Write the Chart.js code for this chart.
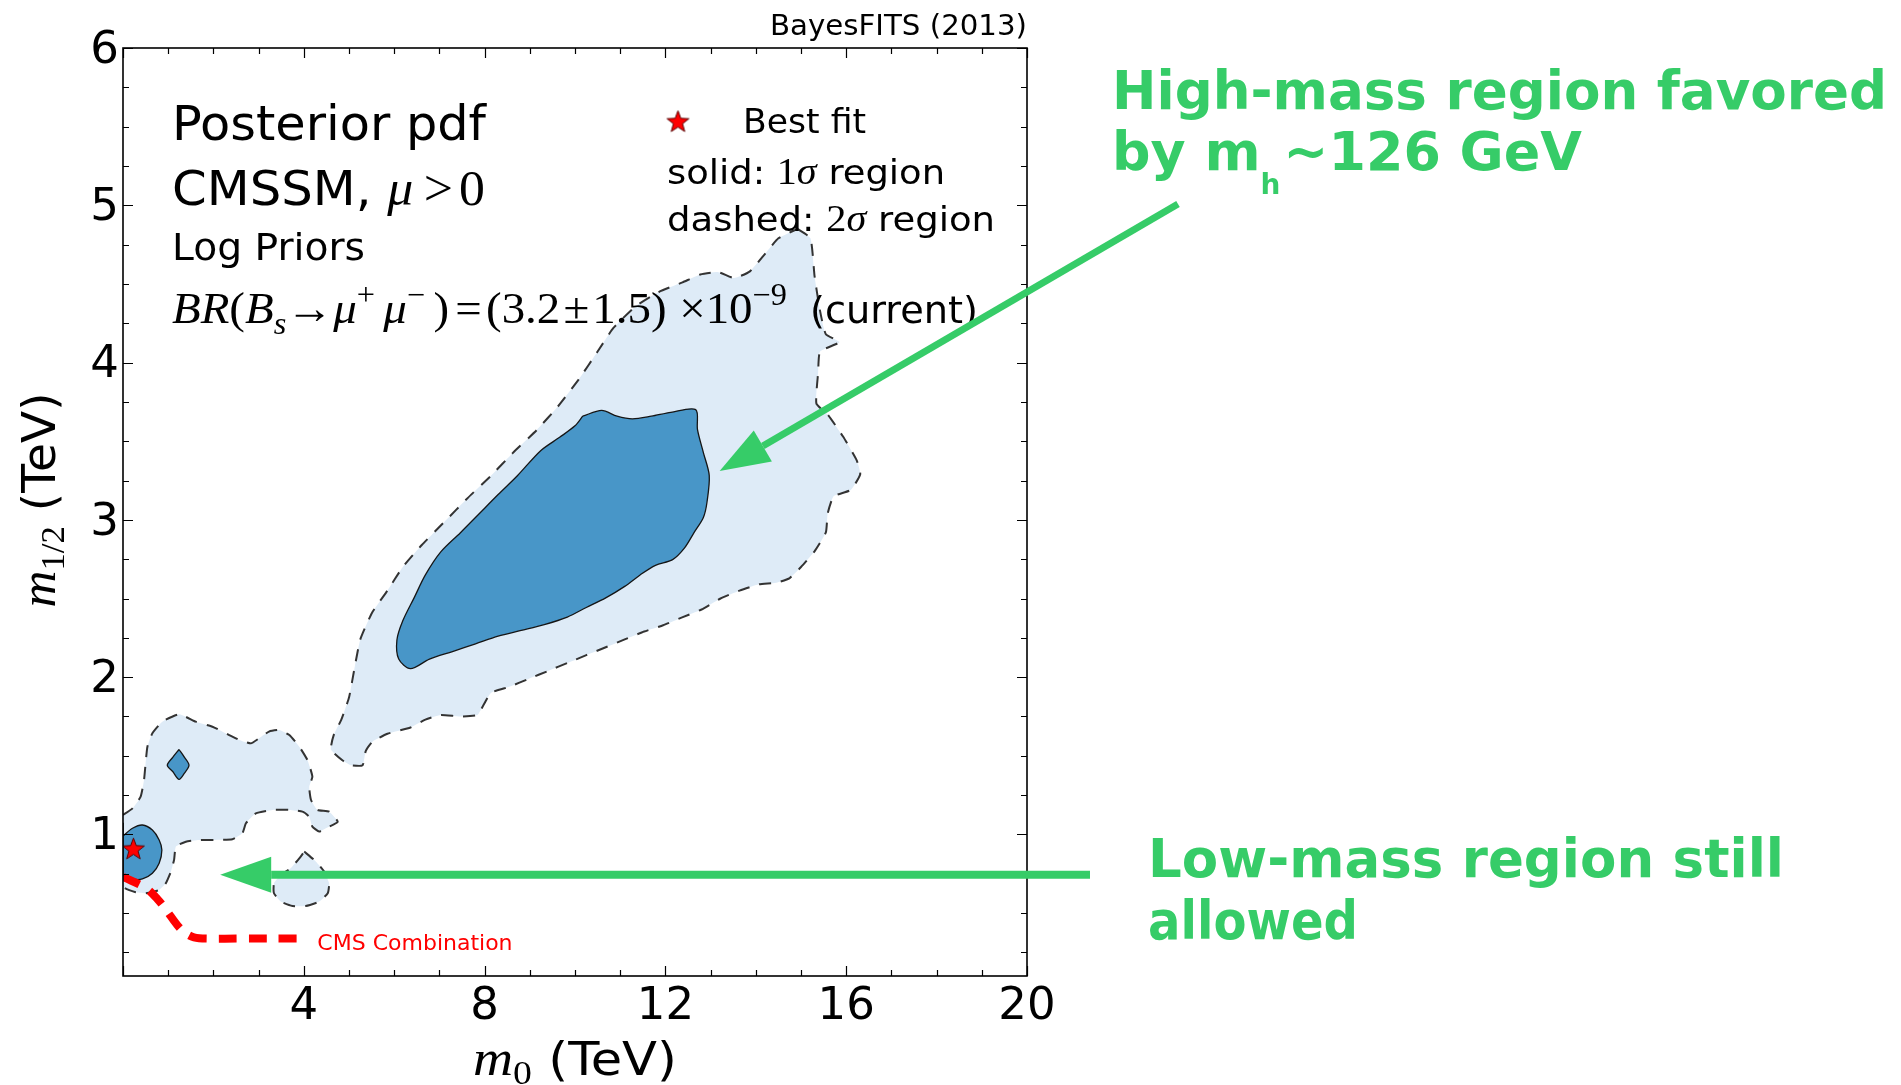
<!DOCTYPE html>
<html>
<head>
<meta charset="utf-8">
<script src="https://cdn.jsdelivr.net/npm/chart.js@4.4.0/dist/chart.umd.min.js"></script>
<style>
  html, body { margin: 0; padding: 0; background: #ffffff; }
  #wrap { width: 1901px; height: 1085px; }
</style>
</head>
<body>
<div id="wrap"><canvas id="c" width="1901" height="1085"></canvas></div>
<script>
// ---------------- DATA ----------------
const xRange = [0, 20];
const yRange = [0.1, 6];
const xTickValues = [0, 4, 8, 12, 16, 20];
const xTickLabels = ['', '4', '8', '12', '16', '20'];
const yTickValues = [1, 2, 3, 4, 5, 6];
const yTickLabels = ['1', '2', '3', '4', '5', '6'];
const xMinorStep = 1;
const yMinorStep = 0.25;

// 2-sigma contours (dashed), vertices as [m0, m1/2] in TeV
const sigma2High = [
  [14.92,4.85],[15.21,4.79],[15.30,4.55],[15.42,4.33],[15.55,4.18],[15.85,4.13],[15.42,4.07],
  [15.38,3.94],[15.34,3.74],[15.59,3.67],[15.93,3.53],[16.23,3.38],[16.31,3.29],[16.10,3.19],
  [15.72,3.15],[15.59,3.04],[15.55,2.92],[15.30,2.80],[15.00,2.70],[14.75,2.63],[14.45,2.60],
  [14.07,2.59],[13.64,2.55],[13.22,2.50],[12.80,2.43],[12.37,2.38],[11.95,2.33],[11.53,2.29],
  [11.10,2.24],[10.68,2.19],[10.25,2.14],[9.83,2.09],[9.41,2.04],[8.98,1.99],[8.56,1.94],
  [8.14,1.90],[7.97,1.82],[7.84,1.76],[7.46,1.75],[7.03,1.76],[6.69,1.73],[6.36,1.68],
  [5.85,1.64],[5.52,1.59],[5.37,1.53],[5.30,1.44],[5.04,1.44],[4.86,1.47],[4.60,1.54],
  [4.66,1.63],[4.83,1.73],[5.00,1.87],[5.13,2.07],[5.25,2.24],[5.51,2.41],[5.85,2.55],
  [6.19,2.70],[6.61,2.84],[7.12,2.99],[7.63,3.14],[8.14,3.28],[8.64,3.43],[9.15,3.57],
  [9.62,3.72],[10.10,3.90],[10.50,4.07],[10.85,4.22],[11.35,4.36],[11.86,4.45],[12.38,4.51],
  [12.77,4.56],[13.17,4.575],[13.52,4.537],[13.87,4.58],[14.20,4.69],[14.50,4.79],[14.92,4.85]
];
const sigma2Low = [
  [0,1.124],[0.21,1.166],[0.39,1.24],[0.465,1.346],[0.50,1.452],[0.54,1.558],[0.65,1.643],
  [0.87,1.717],[1.24,1.764],[1.61,1.717],[1.98,1.685],[2.35,1.632],[2.57,1.601],[2.83,1.579],
  [3.01,1.611],[3.23,1.654],[3.46,1.664],[3.68,1.632],[3.90,1.558],[4.08,1.473],[4.19,1.367],
  [4.12,1.304],[4.16,1.219],[4.30,1.156],[4.56,1.145],[4.75,1.081],[4.49,1.039],[4.34,1.018],
  [4.19,1.05],[4.12,1.113],[3.97,1.145],[3.68,1.156],[3.31,1.156],[2.94,1.134],[2.72,1.071],
  [2.64,1.007],[2.42,0.969],[2.05,0.965],[1.68,0.965],[1.39,0.954],[1.17,0.923],[1.13,0.838],
  [1.06,0.764],[0.945,0.689],[0.80,0.647],[0.50,0.626],[0.28,0.632],[0,0.668],[0,1.124]
];
const sigma2Island = [
  [4.01,0.891],[4.27,0.827],[4.45,0.764],[4.56,0.689],[4.53,0.626],[4.34,0.573],[4.04,0.545],
  [3.75,0.545],[3.49,0.573],[3.34,0.626],[3.34,0.689],[3.49,0.742],[3.71,0.785],[3.90,0.848],
  [4.01,0.891]
];
// 1-sigma contours (solid)
const sigma1High = [
  [10.17,3.659],[10.59,3.696],[10.93,3.659],[11.27,3.642],[11.69,3.659],[12.12,3.684],
  [12.67,3.701],[12.71,3.574],[12.84,3.428],[12.97,3.282],[12.92,3.112],[12.84,3.015],
  [12.63,2.917],[12.42,2.820],[12.16,2.747],[11.78,2.711],[11.44,2.650],[11.10,2.577],
  [10.68,2.504],[10.25,2.443],[9.83,2.382],[9.32,2.334],[8.81,2.297],[8.30,2.261],
  [7.80,2.212],[7.29,2.163],[6.78,2.115],[6.36,2.054],[6.10,2.115],[6.06,2.236],
  [6.19,2.358],[6.44,2.504],[6.69,2.650],[7.03,2.796],[7.46,2.917],[7.88,3.039],
  [8.30,3.161],[8.73,3.282],[9.24,3.440],[9.66,3.525],[10.00,3.598],[10.17,3.659]
];
const sigma1Low = [
  [0,0.99],[0.21,1.039],[0.43,1.06],[0.65,1.028],[0.80,0.965],[0.86,0.901],[0.80,0.817],
  [0.65,0.753],[0.43,0.717],[0.21,0.717],[0,0.742],[0,0.99]
];
const sigma1Diamond = [
  [1.24,1.54],[1.36,1.49],[1.46,1.44],[1.36,1.39],[1.24,1.35],[1.10,1.40],[0.98,1.44],
  [1.10,1.49],[1.24,1.54]
];
// CMS combination exclusion line
const cmsCombination = [
  [0,0.73],[0.50,0.66],[0.76,0.59],[0.98,0.51],[1.17,0.435],[1.35,0.38],[1.57,0.346],
  [1.91,0.338],[2.60,0.338],[3.90,0.338]
];
const bestFit = [[0.23, 0.912]];
// annotation anchors (data coords of arrow tips / label)
const highMassArrowTip = [13.2, 3.31];
const lowMassArrowTip = [2.15, 0.743];
const cmsLabelAt = [4.3, 0.338];

// ---------------- STYLE ----------------
const LIGHT = '#deebf7';
const DARK = '#4896c8';
const GREEN = '#36cc68';
const SANS = '"DejaVu Sans"';
const SERIF = '"Liberation Serif"';

function makeStar(size, fill, stroke) {
  const c = document.createElement('canvas');
  c.width = size; c.height = size;
  const g = c.getContext('2d');
  const R = size / 2 - 1, r = R * 0.42, cx = size / 2, cy = size / 2 + size * 0.05;
  g.beginPath();
  for (let i = 0; i < 10; i++) {
    const a = -Math.PI / 2 + i * Math.PI / 5;
    const rr = i % 2 ? r : R;
    g.lineTo(cx + rr * Math.cos(a), cy + rr * Math.sin(a));
  }
  g.closePath();
  g.fillStyle = fill; g.fill();
  g.lineWidth = 1; g.strokeStyle = stroke; g.stroke();
  return c;
}
const starPlot = makeStar(25, '#ff0000', '#5a0000');
const starLegend = makeStar(25, '#ff0000', '#5a0000');

const toPts = a => a.map(([x, y]) => ({ x, y }));

function contour(arr, level) {
  const two = level === 2;
  return {
    data: toPts(arr),
    showLine: true,
    fill: 'shape',
    backgroundColor: two ? LIGHT : DARK,
    borderColor: two ? '#333333' : '#151515',
    borderWidth: two ? 2 : 1.3,
    borderDash: two ? [12, 10] : [],
    pointRadius: 0,
    pointHoverRadius: 0,
    tension: two ? 0.15 : 0.3,
    order: two ? 5 : 3
  };
}

function drawRich(ctx, x, y, parts, opts) {
  opts = opts || {};
  ctx.save();
  let total = 0;
  parts.forEach(p => { ctx.font = p.f; p.w = ctx.measureText(p.t).width + (p.gap || 0); total += p.w; });
  const sx = opts.width ? opts.width / total : 1;
  ctx.translate(x, y);
  if (opts.rotate) ctx.rotate(opts.rotate);
  if (opts.align === 'center') ctx.translate(-total * sx / 2, 0);
  if (opts.align === 'right') ctx.translate(-total * sx, 0);
  ctx.scale(sx, 1);
  ctx.textBaseline = 'alphabetic';
  ctx.textAlign = 'left';
  ctx.fillStyle = opts.color || '#000';
  let cx = 0;
  parts.forEach(p => { ctx.font = p.f; ctx.fillText(p.t, cx + (p.pre || 0), p.dy || 0); cx += p.w; });
  ctx.restore();
}

function arrow(ctx, x1, y1, x2, y2, w, headLen, headW, color) {
  const ang = Math.atan2(y2 - y1, x2 - x1);
  const bx = x2 - headLen * Math.cos(ang), by = y2 - headLen * Math.sin(ang);
  ctx.save();
  ctx.strokeStyle = color; ctx.lineWidth = w; ctx.lineCap = 'butt';
  ctx.beginPath(); ctx.moveTo(x1, y1); ctx.lineTo(bx, by); ctx.stroke();
  ctx.fillStyle = color;
  ctx.beginPath();
  ctx.moveTo(x2, y2);
  ctx.lineTo(bx + headW / 2 * Math.sin(ang), by - headW / 2 * Math.cos(ang));
  ctx.lineTo(bx - headW / 2 * Math.sin(ang), by + headW / 2 * Math.cos(ang));
  ctx.closePath(); ctx.fill();
  ctx.restore();
}

// frame with inward ticks on all sides
const frameTicks = {
  id: 'frameTicks',
  afterDatasetsDraw(chart) {
    const { ctx, chartArea: { left, right, top, bottom }, scales: { x, y } } = chart;
    ctx.save();
    ctx.strokeStyle = '#000';
    ctx.lineWidth = 1.2;
    ctx.beginPath();
    for (let v = xRange[0]; v <= xRange[1] + 1e-9; v += xMinorStep) {
      const px = Math.round(x.getPixelForValue(v)) + 0.5;
      const L = xTickValues.includes(v) ? 10 : 6;
      ctx.moveTo(px, bottom); ctx.lineTo(px, bottom - L);
      ctx.moveTo(px, top); ctx.lineTo(px, top + L);
    }
    for (let v = yMinorStep; v <= yRange[1] + 1e-9; v += yMinorStep) {
      if (v < yRange[0]) continue;
      const py = Math.round(y.getPixelForValue(v)) + 0.5;
      const L = yTickValues.includes(v) ? 10 : 6;
      ctx.moveTo(left, py); ctx.lineTo(left + L, py);
      ctx.moveTo(right, py); ctx.lineTo(right - L, py);
    }
    ctx.stroke();
    ctx.lineWidth = 1.6;
    ctx.strokeRect(left, top, right - left, bottom - top);
    ctx.restore();
  }
};

const annotations = {
  id: 'annotations',
  afterDraw(chart) {
    const { ctx, chartArea: { left, right, top, bottom }, scales: { x, y } } = chart;
    // axis titles
    drawRich(ctx, (left + right) / 2, 1075, [
      { t: 'm', f: `italic 50px ${SERIF}` },
      { t: '0', f: `34px ${SERIF}`, dy: 9 },
      { t: ' (TeV)', f: `46px ${SANS}` }
    ], { align: 'center', width: 204 });
    drawRich(ctx, 55, 500, [
      { t: 'm', f: `italic 50px ${SERIF}` },
      { t: '1/2', f: `34px ${SERIF}`, dy: 9 },
      { t: ' (TeV)', f: `46px ${SANS}` }
    ], { align: 'center', rotate: -Math.PI / 2, width: 215 });

    // header
    drawRich(ctx, right, 35, [{ t: 'BayesFITS (2013)', f: `28px ${SANS}` }], { align: 'right', width: 257 });

    // info block
    drawRich(ctx, 172, 140, [{ t: 'Posterior pdf', f: `48px ${SANS}` }], { width: 314 });
    drawRich(ctx, 172, 205, [
      { t: 'CMSSM, ', f: `48px ${SANS}` },
      { t: 'μ', f: `italic 50px ${SERIF}`, gap: 10 },
      { t: '>', f: `50px ${SERIF}`, gap: 6 },
      { t: '0', f: `50px ${SERIF}` }
    ], { width: 313 });
    drawRich(ctx, 172, 260, [{ t: 'Log Priors', f: `38px ${SANS}` }], { width: 193 });
    const mi = `italic 45px ${SERIF}`, mr = `45px ${SERIF}`, ms = `31px ${SERIF}`;
    drawRich(ctx, 172, 323, [
      { t: 'BR', f: mi }, { t: '(', f: mr }, { t: 'B', f: mi },
      { t: 's', f: `italic 31px ${SERIF}`, dy: 11 },
      { t: '→', f: mr }, { t: 'μ', f: mi }, { t: '+', f: ms, dy: -18, gap: 8 },
      { t: 'μ', f: mi }, { t: '−', f: ms, dy: -18, gap: 8 },
      { t: ')', f: mr, gap: 6 }, { t: '=', f: mr, gap: 4 }, { t: '(3.2', f: mr, gap: 3 }, { t: '±', f: mr, gap: 3 },
      { t: '1.5)', f: mr, gap: 12 }, { t: '×', f: mr }, { t: '10', f: mr },
      { t: '−9', f: ms, dy: -18 }
    ], { width: 615 });
    drawRich(ctx, 810, 323, [{ t: '(current)', f: `38px ${SANS}` }], { width: 168 });

    // legend
    ctx.drawImage(starLegend, 678 - starLegend.width / 2, 121 - starLegend.height / 2);
    drawRich(ctx, 743, 133, [{ t: 'Best fit', f: `34px ${SANS}` }], { width: 123 });
    drawRich(ctx, 667, 184, [
      { t: 'solid: ', f: `34px ${SANS}` }, { t: '1', f: `37px ${SERIF}` },
      { t: 'σ', f: `italic 37px ${SERIF}` }, { t: ' region', f: `34px ${SANS}` }
    ], { width: 278 });
    drawRich(ctx, 667, 231, [
      { t: 'dashed: ', f: `34px ${SANS}` }, { t: '2', f: `37px ${SERIF}` },
      { t: 'σ', f: `italic 37px ${SERIF}` }, { t: ' region', f: `34px ${SANS}` }
    ], { width: 328 });

    // CMS label
    ctx.save();
    ctx.font = `22px ${SANS}`;
    ctx.fillStyle = '#ff0000';
    ctx.textBaseline = 'alphabetic';
    ctx.fillText('CMS Combination', x.getPixelForValue(cmsLabelAt[0]), y.getPixelForValue(cmsLabelAt[1]) + 11);
    ctx.restore();

    // green arrows
    arrow(ctx, 1178, 204, x.getPixelForValue(highMassArrowTip[0]), y.getPixelForValue(highMassArrowTip[1]), 7, 50, 36, GREEN);
    const ly = y.getPixelForValue(lowMassArrowTip[1]);
    arrow(ctx, 1090, ly, x.getPixelForValue(lowMassArrowTip[0]), ly, 8, 51, 36, GREEN);

    // green captions
    const gb = `bold 54px ${SANS}`;
    drawRich(ctx, 1112, 109, [{ t: 'High-mass region favored', f: gb }], { width: 775, color: GREEN });
    drawRich(ctx, 1112, 170, [
      { t: 'by m', f: gb }, { t: 'h', f: `bold 28px ${SANS}`, dy: 24, gap: 3 },
      { t: '~126 GeV', f: gb }
    ], { width: 470, color: GREEN });
    drawRich(ctx, 1148, 877, [{ t: 'Low-mass region still', f: gb }], { width: 636, color: GREEN });
    drawRich(ctx, 1148, 939, [{ t: 'allowed', f: gb }], { color: GREEN, width: 210 });
  }
};

const chart = new Chart(document.getElementById('c'), {
  type: 'scatter',
  data: {
    datasets: [
      contour(sigma2High, 2),
      contour(sigma2Low, 2),
      contour(sigma2Island, 2),
      contour(sigma1High, 1),
      contour(sigma1Low, 1),
      contour(sigma1Diamond, 1),
      {
        data: toPts(cmsCombination), showLine: true, fill: false,
        borderColor: '#ff0000', borderWidth: 8, borderDash: [18, 12],
        pointRadius: 0, pointHoverRadius: 0, tension: 0.35, order: 2
      },
      {
        data: toPts(bestFit), showLine: false, pointStyle: starPlot,
        pointRadius: 10, order: 1
      }
    ]
  },
  options: {
    responsive: false,
    animation: false,
    devicePixelRatio: 1,
    events: [],
    layout: { padding: { top: 48, right: 874, left: 0, bottom: 0 } },
    plugins: { legend: { display: false }, tooltip: { enabled: false }, title: { display: false } },
    scales: {
      x: {
        type: 'linear', min: xRange[0], max: xRange[1],
        grid: { display: false, drawTicks: false }, border: { display: false },
        afterBuildTicks: s => { s.ticks = xTickValues.map(v => ({ value: v })); },
        ticks: {
          autoSkip: false, maxRotation: 0, color: '#000', padding: 4,
          font: { family: 'DejaVu Sans', size: 45 },
          callback: v => xTickLabels[xTickValues.indexOf(v)]
        },
        afterFit: s => { s.height = 109; }
      },
      y: {
        type: 'linear', min: yRange[0], max: yRange[1],
        grid: { display: false, drawTicks: false }, border: { display: false },
        afterBuildTicks: s => { s.ticks = yTickValues.map(v => ({ value: v })); },
        ticks: {
          autoSkip: false, color: '#000', padding: 4, labelOffset: 3,
          font: { family: 'DejaVu Sans', size: 45 },
          callback: v => yTickLabels[yTickValues.indexOf(v)]
        },
        afterFit: s => { s.width = 123; }
      }
    }
  },
  plugins: [frameTicks, annotations]
});
</script>
</body>
</html>
